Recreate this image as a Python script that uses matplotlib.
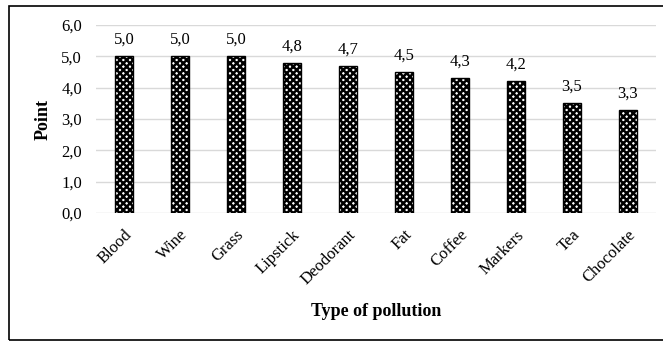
import matplotlib
matplotlib.use("Agg")
import matplotlib.pyplot as plt
from matplotlib.patches import Rectangle

categorias = ["Blood", "Wine", "Grass", "Lipstick", "Deodorant", "Fat",
              "Coffee", "Markers", "Tea", "Chocolate"]
puntos = [5.0, 5.0, 5.0, 4.8, 4.7, 4.5, 4.3, 4.2, 3.5, 3.3]
yticks = [0, 1, 2, 3, 4, 5, 6]

plt.rcParams['font.family'] = ['Liberation Serif', 'DejaVu Serif']
plt.rcParams['hatch.linewidth'] = 1.8

fig = plt.figure(figsize=(6.63, 3.43), dpi=100)
ax = fig.add_axes([96/663, 1 - 213/343, 560/663, 188/343])

x = list(range(len(categorias)))
ax.bar(x, puntos, width=0.32, facecolor="white", edgecolor="black",
       hatch="xxxxx", linewidth=1.0, zorder=3)

def coma(v):
    return f"{v:.1f}".replace(".", ",")

for i, v in enumerate(puntos):
    ax.annotate(coma(v), (i, v), textcoords="offset points", xytext=(0, 6),
                ha="center", va="bottom", fontsize=12)

ax.set_xlim(-0.5, len(categorias) - 0.5)
ax.set_ylim(0, 6)
ax.set_yticks(yticks)
ax.set_yticklabels([coma(t) for t in yticks], fontsize=12)
ax.tick_params(axis="y", length=0, pad=10)
ax.set_xticks(x)
ax.set_xticklabels(categorias, rotation=45, ha="right", rotation_mode="anchor",
                   fontsize=12)
ax.tick_params(axis="x", length=0, pad=10)
ax.grid(axis="y", color="#d9d9d9", linewidth=1, zorder=0)
for s in ax.spines.values():
    s.set_visible(False)

ax.set_ylabel("Point", fontweight="bold", fontsize=13, labelpad=7)
ax.set_xlabel("Type of pollution", fontweight="bold", fontsize=13, labelpad=11)

fig.patches.append(Rectangle((9/663, 3/343), 700/663, 334/343, transform=fig.transFigure,
                             fill=False, edgecolor="black", linewidth=1.2))

fig.savefig("out.png", dpi=100)
